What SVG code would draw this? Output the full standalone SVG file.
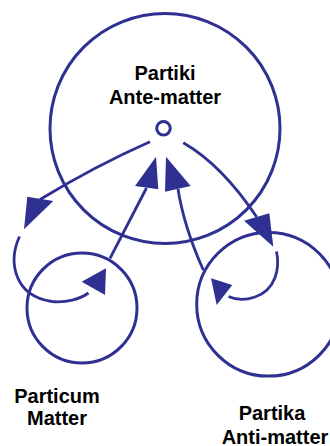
<svg xmlns="http://www.w3.org/2000/svg" width="330" height="446" viewBox="0 0 330 446">
<style>
.c{fill:none;stroke:#2e3192;stroke-width:3}
.l{fill:none;stroke:#2e3192;stroke-width:2.8}
.h{fill:#2e3192;stroke:none}
.t{font-family:"Liberation Sans",Arial,sans-serif;font-weight:bold;font-size:20px;fill:#000;text-anchor:middle}
</style>
<rect width="330" height="446" fill="#fff"/>
<g id="ante">
<circle class="c" cx="165" cy="128.5" r="115"/>
<circle class="c" cx="163.5" cy="128.3" r="6.8" stroke-width="2.6"/>
<text class="t" x="165" y="80">Partiki</text>
<text class="t" x="165" y="104">Ante-matter</text>
</g>
<g id="matter">
<circle class="c" cx="82" cy="308" r="55"/>
<text class="t" x="57" y="403">Particum</text>
<text class="t" x="57" y="425">Matter</text>
</g>
<g id="antimatter">
<circle class="c" cx="268.5" cy="304.3" r="71.8"/>
<text class="t" x="272" y="420">Partika</text>
<text class="t" x="275" y="443.5">Anti-matter</text>
</g>
<g id="connectors">
<path class="l" d="M150,141.7 Q95,166 40,199.5"/>
<polygon class="h" points="27.3,196.7 53.3,201 24,229.3"/>
<path class="l" d="M19.5,236.5 C8,262 14,296 52,301.5 C66,303 80,299 88.5,293"/>
<polygon class="h" points="81.7,281.7 106,268.3 105,295"/>
<path class="l" d="M110,258.3 L146.5,188"/>
<polygon class="h" points="156,156.7 135,186 158.3,189.3"/>
<path class="l" d="M203.3,270 Q184,227 178,189"/>
<polygon class="h" points="166,156.7 165,191.7 190.7,186"/>
<path class="l" d="M183.3,142.7 Q222,165 256.7,217"/>
<polygon class="h" points="244,220.7 269.3,213.3 273.3,246.7"/>
<path class="l" d="M276.5,251.5 C280,268 276,290 255,297 C245,300.5 236,300 228.5,296.5"/>
<polygon class="h" points="211,278.3 232.3,285 216.7,305"/>
</g>
</svg>
